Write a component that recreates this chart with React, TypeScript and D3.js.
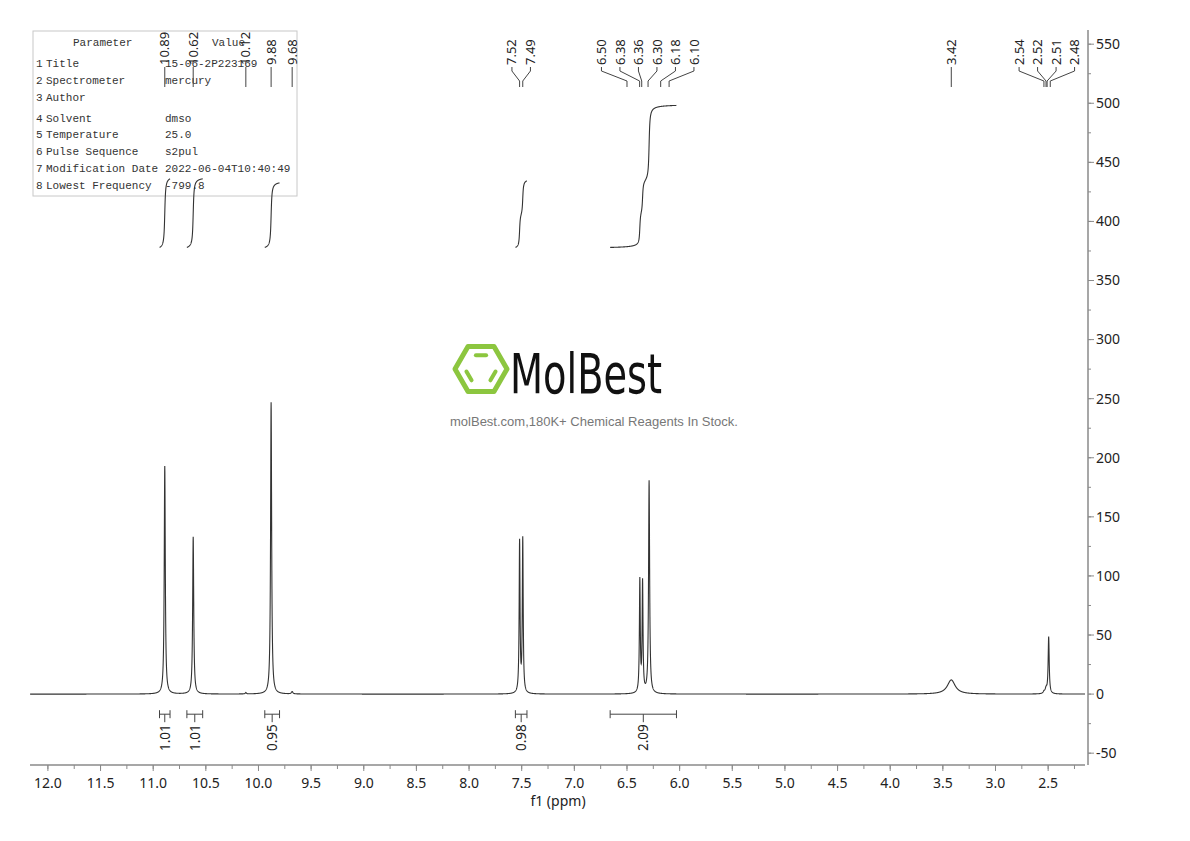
import React from 'react';
import * as d3 from 'd3';

// peak list: ppm, height, half width (ppm)
const peakPpm = [10.89, 10.62, 10.12, 9.88, 9.68, 7.52, 7.49, 6.378, 6.352, 6.29, 3.42, 2.54, 2.52, 2.495];
const peakHeight = [193, 133, 1.2, 247, 2, 128, 130, 95, 93, 180, 12, 1.5, 4, 48];
const peakWidth = [0.006, 0.006, 0.006, 0.006, 0.008, 0.005, 0.005, 0.005, 0.005, 0.006, 0.045, 0.008, 0.01, 0.006];

// peak pick labels, grouped as drawn
const labelGroups = [
  ['10.89'],
  ['10.62'],
  ['10.12'],
  ['9.88'],
  ['9.68'],
  ['7.52', '7.49'],
  ['6.50', '6.38', '6.36', '6.30', '6.18', '6.10'],
  ['3.42'],
  ['2.54', '2.52', '2.51', '2.48'],
];

// integrals: from / to ppm and value
const integralFrom = [10.94, 10.68, 9.94, 7.56, 6.66];
const integralTo = [10.84, 10.53, 9.8, 7.45, 6.03];
const integralValue = [1.01, 1.01, 0.95, 0.98, 2.09];

const xTicks = [12.0, 11.5, 11.0, 10.5, 10.0, 9.5, 9.0, 8.5, 8.0, 7.5, 7.0, 6.5, 6.0, 5.5, 5.0, 4.5, 4.0, 3.5, 3.0, 2.5];
const yTicks = [-50, 0, 50, 100, 150, 200, 250, 300, 350, 400, 450, 500, 550];

const paramNames = ['Title', 'Spectrometer', 'Author', 'Solvent', 'Temperature', 'Pulse Sequence', 'Modification Date', 'Lowest Frequency'];
const paramValues = ['15-06-2P223169', 'mercury', '', 'dmso', '25.0', 's2pul', '2022-06-04T10:40:49', '-799.8'];

const W = 1190;
const H = 841;

const x = d3.scaleLinear().domain([12.17, 2.15]).range([30, 1085]);
const y = d3.scaleLinear().domain([-60, 562]).range([765, 30]);

function intensity(p: number) {
  let s = 0;
  for (let i = 0; i < peakPpm.length; i++) {
    const d = p - peakPpm[i];
    const w = peakWidth[i];
    s += (peakHeight[i] * w * w) / (d * d + w * w);
  }
  return s;
}

// sample grid, plus the peak tops so they are not missed
const grid: number[] = d3.range(2.15, 12.17, 0.001).concat(peakPpm).sort((a, b) => b - a);
const spectrum = grid.map((p) => [p, intensity(p)] as [number, number]);

const line = d3
  .line<[number, number]>()
  .x((d) => x(d[0]))
  .y((d) => y(d[1]));

const INT_BASE = 378;
const INT_UNIT = 57.5;

function integralPath(i: number) {
  const pts = spectrum.filter((d) => d[0] <= integralFrom[i] && d[0] >= integralTo[i]);
  let cum = 0;
  const c: number[] = [0];
  for (let k = 1; k < pts.length; k++) {
    cum += ((pts[k][1] + pts[k - 1][1]) / 2) * (pts[k - 1][0] - pts[k][0]);
    c.push(cum);
  }
  const tot = cum || 1;
  const curve = pts.map((d, k) => [d[0], INT_BASE + (c[k] / tot) * integralValue[i] * INT_UNIT] as [number, number]);
  return line(curve);
}

const axisColor = '#8a8a8a';
const font = 'Noto Sans, DejaVu Sans, sans-serif';

export default function App() {
  const labelSpacing = 18.5;
  const minorX = d3.range(2.25, 12.01, 0.25);
  const minorY = d3.range(-50, 551, 25);

  return (
    <svg width={W} height={H} style={{ display: 'block', position: 'absolute', left: 0, top: 0, background: '#fff' }}>
      {/* parameter table */}
      <g fontFamily="Liberation Mono, DejaVu Sans Mono, monospace" fontSize={11} fill="#333">
        <rect x={33} y={31} width={264} height={165} fill="#fff" stroke="#c8c8c8" />
        <text x={73} y={46}>Parameter</text>
        <text x={212} y={46}>Value</text>
        {paramNames.map((n, i) => {
          const ty = [67, 84, 101, 122, 138, 155, 172, 189][i];
          return (
            <g key={n}>
              <text x={36} y={ty}>{i + 1}</text>
              <text x={46} y={ty}>{n}</text>
              <text x={165} y={ty}>{paramValues[i]}</text>
            </g>
          );
        })}
      </g>

      {/* logo watermark */}
      <g>
        {(() => {
          const cx = 481;
          const cy = 369;
          const r = 26;
          const hex = d3.range(6).map((k) => [cx + r * Math.cos((k * Math.PI) / 3), cy + r * Math.sin((k * Math.PI) / 3)]);
          const ri = 16;
          const inner = d3.range(6).map((k) => [cx + ri * Math.cos((k * Math.PI) / 3), cy + ri * Math.sin((k * Math.PI) / 3)]);
          const seg = (a: number[], b: number[]) => {
            const sx = a[0] + (b[0] - a[0]) * 0.18;
            const sy = a[1] + (b[1] - a[1]) * 0.18;
            const ex = a[0] + (b[0] - a[0]) * 0.82;
            const ey = a[1] + (b[1] - a[1]) * 0.82;
            return `M${sx},${sy}L${ex},${ey}`;
          };
          return (
            <g stroke="#8cc63f" fill="none" strokeLinecap="round">
              <path d={'M' + hex.map((p) => p.join(',')).join('L') + 'Z'} strokeWidth={5} strokeLinejoin="round" />
              <path d={seg(inner[4], inner[5])} strokeWidth={4} />
              <path d={seg(inner[0], inner[1])} strokeWidth={4} />
              <path d={seg(inner[2], inner[3])} strokeWidth={4} />
            </g>
          );
        })()}
        <text
          x={510}
          y={393}
          fontFamily="DejaVu Sans Condensed, DejaVu Sans, sans-serif"
          fontSize={55}
          fill="#111"
          textLength={152}
          lengthAdjust="spacingAndGlyphs"
        >
          MolBest
        </text>
        <text x={594} y={426} textAnchor="middle" fontFamily="Liberation Sans, Arial, sans-serif" fontSize={13} fill="#777">
          molBest.com,180K+ Chemical Reagents In Stock.
        </text>
      </g>

      {/* spectrum */}
      <path d={line(spectrum) || ''} fill="none" stroke="#333" strokeWidth={1.1} />

      {/* integral curves */}
      {integralValue.map((v, i) => (
        <path key={'ic' + i} d={integralPath(i) || ''} fill="none" stroke="#333" strokeWidth={1.1} />
      ))}

      {/* integral brackets */}
      <g stroke="#444" fill="none" strokeWidth={1}>
        {integralValue.map((v, i) => {
          const x0 = x(integralFrom[i]);
          const x1 = x(integralTo[i]);
          const xm = (x0 + x1) / 2;
          const by = y(-17);
          return (
            <g key={'ib' + i}>
              <line x1={x0} x2={x1} y1={by} y2={by} />
              <line x1={x0} x2={x0} y1={by - 4} y2={by + 4} />
              <line x1={x1} x2={x1} y1={by - 4} y2={by + 4} />
              <line x1={xm} x2={xm} y1={by} y2={by + 8} />
              <text
                transform={`translate(${xm},${by + 10}) rotate(-90)`}
                textAnchor="end"
                dy="0.35em"
                fontFamily={font}
                fontSize={13.5}
                fill="#222"
                stroke="none"
              >
                {v.toFixed(2)}
              </text>
            </g>
          );
        })}
      </g>

      {/* peak labels */}
      <g stroke="#444" fill="none" strokeWidth={1}>
        {labelGroups.map((grp, gi) => {
          const px = grp.map((t) => x(+t));
          const cx = d3.mean(px) as number;
          return (
            <g key={'lg' + gi}>
              {grp.map((t, k) => {
                const lx = cx + (k - (grp.length - 1) / 2) * labelSpacing;
                const d =
                  grp.length === 1
                    ? `M${lx},67L${lx},87`
                    : `M${lx},67L${lx},71L${px[k]},81L${px[k]},87`;
                return (
                  <g key={t}>
                    <path d={d} />
                    <text
                      transform={`translate(${lx},65) rotate(-90)`}
                      dy="0.35em"
                      fontFamily={font}
                      fontSize={13}
                      fill="#222"
                      stroke="none"
                    >
                      {t}
                    </text>
                  </g>
                );
              })}
            </g>
          );
        })}
      </g>

      {/* x axis */}
      <g>
        <line x1={30} x2={1085} y1={765} y2={765} stroke={axisColor} strokeWidth={1.5} />
        {minorX.map((t) => (
          <line key={'mx' + t} x1={x(t)} x2={x(t)} y1={765} y2={769} stroke={axisColor} />
        ))}
        {xTicks.map((t) => (
          <g key={'x' + t}>
            <line x1={x(t)} x2={x(t)} y1={765} y2={771} stroke={axisColor} />
            <text x={x(t)} y={788} textAnchor="middle" fontFamily={font} fontSize={14} fill="#222">
              {t.toFixed(1)}
            </text>
          </g>
        ))}
        <text x={558} y={806} textAnchor="middle" fontFamily={font} fontSize={14} fill="#222">
          f1 (ppm)
        </text>
      </g>

      {/* y axis */}
      <g>
        <line x1={1088} x2={1088} y1={30} y2={765} stroke={axisColor} strokeWidth={1.5} />
        {minorY.map((t) => (
          <line key={'my' + t} x1={1088} x2={1091} y1={y(t)} y2={y(t)} stroke={axisColor} />
        ))}
        {yTicks.map((t) => (
          <g key={'y' + t}>
            <line x1={1088} x2={1094} y1={y(t)} y2={y(t)} stroke={axisColor} />
            <text x={1096} y={y(t)} dy="0.35em" fontFamily={font} fontSize={14} fill="#222">
              {t}
            </text>
          </g>
        ))}
      </g>
    </svg>
  );
}
